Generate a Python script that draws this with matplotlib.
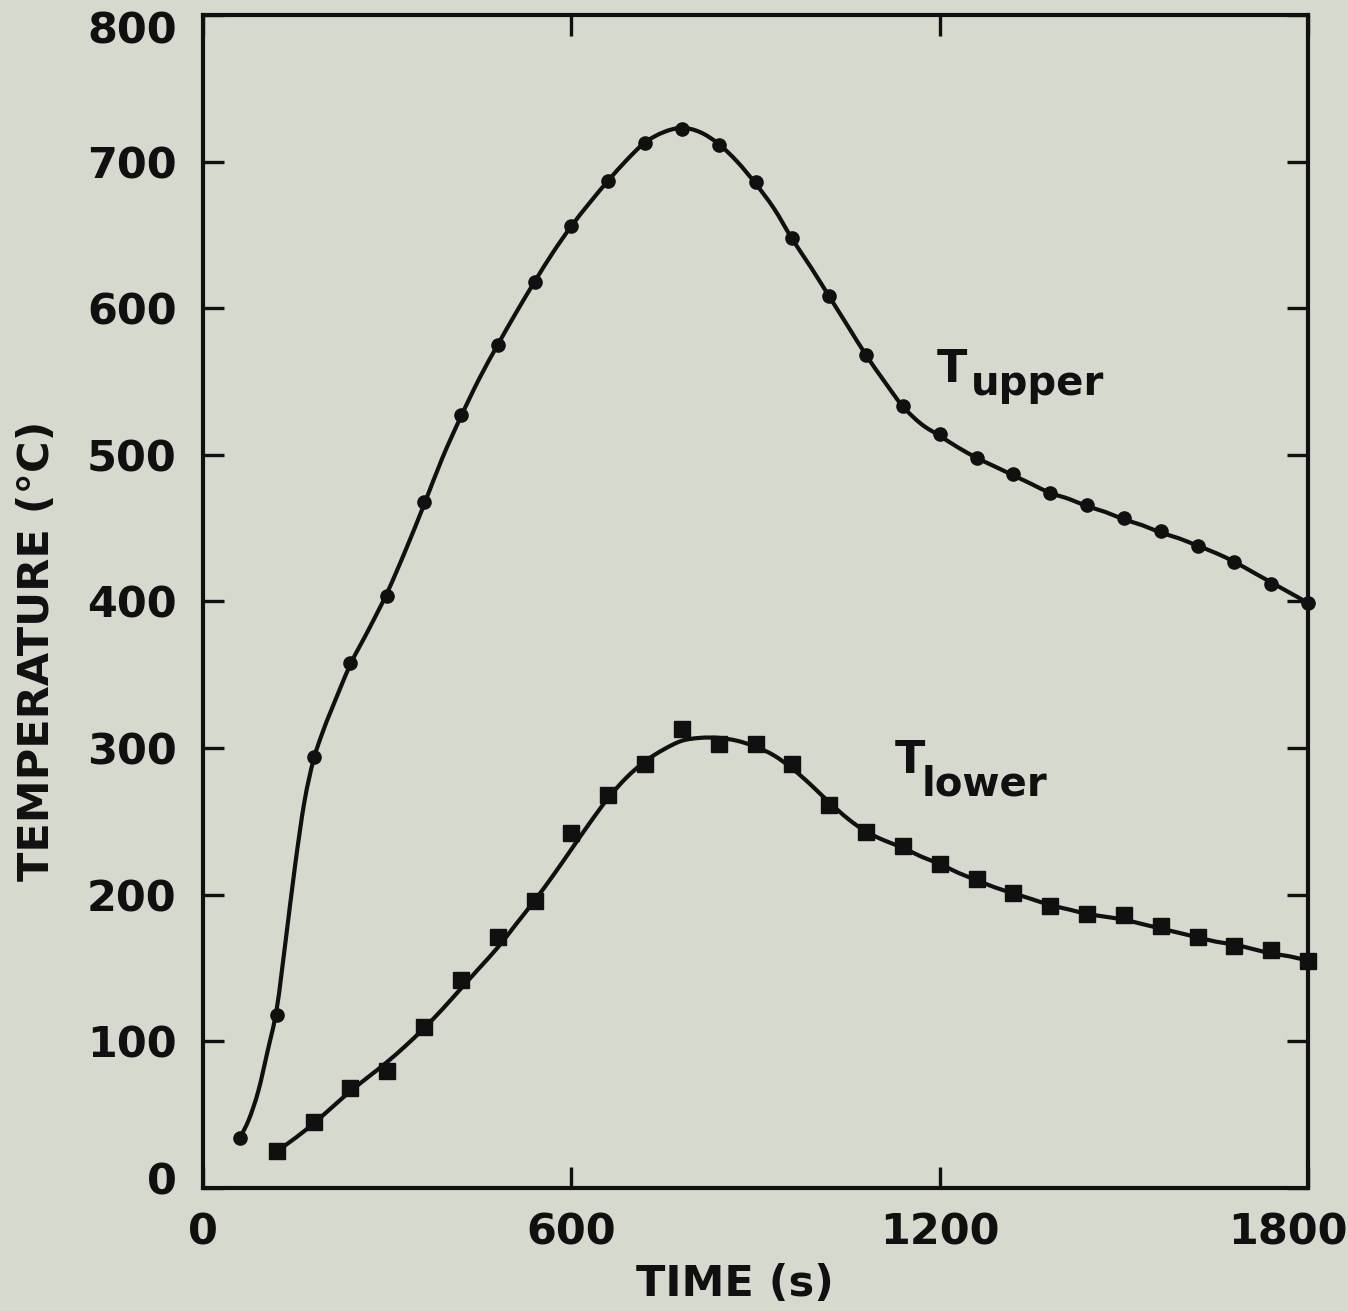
import numpy as np
import matplotlib
matplotlib.use("Agg")
import matplotlib.pyplot as plt
from matplotlib.path import Path
from matplotlib.patches import PathPatch
from matplotlib.transforms import ScaledTranslation

# Measured temperatures (markers), sampled every 60 s
t_upper_meas = [60, 120, 180, 240, 300, 360, 420, 480, 540, 600, 660, 720, 780, 840, 900,
                960, 1020, 1080, 1140, 1200, 1260, 1320, 1380, 1440, 1500, 1560, 1620, 1680,
                1740, 1800]
T_upper_meas = [34, 118, 294, 358, 404, 468, 527, 575, 618, 656, 687, 713, 722, 711, 686,
                648, 608, 568, 533, 514, 498, 487, 474, 466, 457, 448, 438, 427, 412, 399]

t_lower_meas = [120, 180, 240, 300, 360, 420, 480, 540, 600, 660, 720, 780, 840, 900,
                960, 1020, 1080, 1140, 1200, 1260, 1320, 1380, 1440, 1500, 1560, 1620, 1680,
                1740, 1800]
T_lower_meas = [25, 45, 68, 80, 110, 142, 171, 196, 242, 268, 289, 313, 303, 303,
                289, 261, 243, 233, 221, 211, 201, 192, 187, 186, 179, 171, 165, 162, 155]

# Calculated temperatures (solid curves)
t_upper_calc = [60, 75, 90, 105, 120, 135, 150, 165, 180, 195, 210, 240, 270, 300, 330, 360,
                390, 420, 450, 480, 510, 540, 570, 600, 630, 660, 690, 720, 750, 780, 810,
                840, 870, 900, 930, 960, 990, 1020, 1050, 1080, 1110, 1140, 1170, 1200, 1230,
                1260, 1290, 1320, 1350, 1380, 1410, 1440, 1470, 1500, 1530, 1560, 1590, 1620,
                1650, 1680, 1710, 1740, 1770, 1800]
T_upper_calc = [34, 47, 66, 93, 122, 170, 220, 263, 292, 311, 327, 357, 381, 406, 435, 466,
                498, 526, 552, 575, 597, 618, 638, 656, 672, 687, 701, 713, 720, 723, 720,
                712, 700, 685, 668, 647, 628, 608, 588, 568, 550, 533, 521, 513, 505,
                498, 492, 486, 480, 474, 470, 465, 461, 456, 452, 447, 443, 438,
                433, 427, 420, 413, 406, 399]

t_lower_calc = [120, 150, 180, 210, 240, 270, 300, 330, 360, 390, 420, 450, 480, 510, 540,
                570, 600, 630, 660, 690, 720, 750, 780, 810, 840, 870, 900, 930, 960, 990,
                1020, 1050, 1080, 1110, 1140, 1170, 1200, 1230, 1260, 1290, 1320, 1350, 1380,
                1410, 1440, 1470, 1500, 1530, 1560, 1590, 1620, 1650, 1680, 1710, 1740, 1770,
                1800]
T_lower_calc = [25, 34, 44, 55, 66, 76, 86, 97, 109, 122, 136, 150, 164, 180, 196,
                213, 231, 249, 266, 280, 291, 299, 305, 307, 307, 305, 301, 295, 286, 275,
                263, 252, 243, 237, 232, 226, 221, 215, 210, 205, 201, 197, 193,
                190, 187, 185, 183, 180, 177, 174, 171, 168, 166, 163, 160, 158,
                155]

x_ticks = [0, 600, 1200, 1800]
y_ticks = [0, 100, 200, 300, 400, 500, 600, 700, 800]

INK = "#101010"
PAPER = "#d6dace"
FONT = "DejaVu Sans"


def smooth_path(xs, ys):
    """Catmull-Rom curve through the given points, as cubic Bezier segments."""
    p = np.column_stack([xs, ys]).astype(float)
    ext = np.vstack([p[0], p, p[-1]])
    verts = [p[0]]
    codes = [Path.MOVETO]
    for i in range(len(p) - 1):
        p0, p1, p2, p3 = ext[i], ext[i + 1], ext[i + 2], ext[i + 3]
        c1 = p1 + (p2 - p0) / 6.0
        c2 = p2 - (p3 - p1) / 6.0
        verts += [c1, c2, p2]
        codes += [Path.CURVE4] * 3
    return Path(verts, codes)


def nudge(label, dx_px, dy_px):
    label.set_transform(label.get_transform()
                        + ScaledTranslation(dx_px / 100, dy_px / 100, fig.dpi_scale_trans))


fig = plt.figure(figsize=(13.48, 13.11), dpi=100, facecolor=PAPER)
ax = fig.add_axes([0.1506, 0.0938, 0.8198, 0.8948], facecolor=PAPER)

for tc, Tc in ((t_upper_calc, T_upper_calc), (t_lower_calc, T_lower_calc)):
    ax.add_patch(PathPatch(smooth_path(tc, Tc), facecolor="none", edgecolor=INK,
                           lw=3.0, capstyle="round", joinstyle="round", zorder=3))

ax.plot(t_upper_meas, T_upper_meas, linestyle="none", marker="o", ms=9.5,
        color=INK, zorder=4, clip_on=False)
ax.plot(t_lower_meas, T_lower_meas, linestyle="none", marker="s", ms=11.5,
        color=INK, zorder=4, clip_on=False)

ax.set_xlim(0, 1800)
ax.set_ylim(0, 800)
ax.set_xticks(x_ticks)
ax.set_yticks(y_ticks)
ax.set_xticklabels([str(v) for v in x_ticks])
ax.set_yticklabels([str(v) for v in y_ticks])

for side in ax.spines.values():
    side.set_linewidth(3.0)
    side.set_color(INK)

ax.tick_params(axis="both", which="major", direction="in", length=15, width=2.4,
               color=INK, top=True, right=True)
ax.tick_params(axis="y", pad=19)
ax.tick_params(axis="x", pad=17)
for lab in ax.get_xticklabels() + ax.get_yticklabels():
    lab.set_fontfamily(FONT)
    lab.set_fontweight("bold")
    lab.set_fontsize(31)
    lab.set_color(INK)

# end labels sit a little inside the frame corners
xl = ax.get_xticklabels()
yl = ax.get_yticklabels()
nudge(xl[-1], -20, 0)
nudge(yl[0], 0, 10)
nudge(yl[-1], 0, -12)

ax.set_xlabel("TIME (s)", fontsize=31, fontweight="bold", family=FONT, color=INK)
ax.set_ylabel("TEMPERATURE (\u00b0C)", fontsize=31, fontweight="bold", family=FONT,
              color=INK)
ax.xaxis.set_label_coords(0.481, -0.064)
ax.yaxis.set_label_coords(-0.131, 0.458)

# Curve labels: T with a large subscript
ax.text(1195, 550, "T", fontsize=32, fontweight="bold", family=FONT, color=INK,
        ha="left", va="baseline")
ax.text(1251, 541, "upper", fontsize=29, fontweight="bold", family=FONT, color=INK,
        ha="left", va="baseline")
ax.text(1127, 283, "T", fontsize=32, fontweight="bold", family=FONT, color=INK,
        ha="left", va="baseline")
ax.text(1171, 268, "lower", fontsize=29, fontweight="bold", family=FONT, color=INK,
        ha="left", va="baseline")

fig.savefig("out.png", dpi=100, facecolor=PAPER)
